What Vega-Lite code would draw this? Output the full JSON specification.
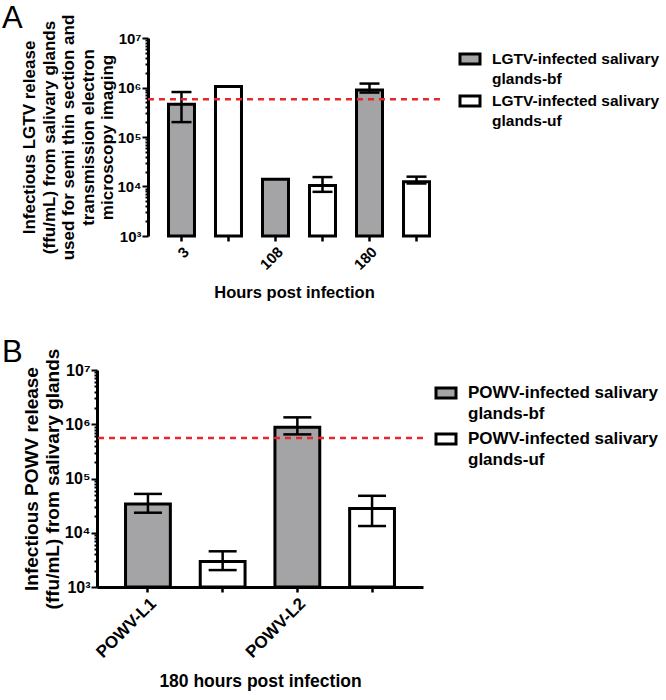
{
  "$schema": "https://vega.github.io/schema/vega-lite/v6.json",
  "background": "white",
  "padding": {"left": 2, "top": 3, "right": 3, "bottom": 3},
  "concat": [
    {
      "hconcat": [
        {
          "width": 343,
          "height": 198,
          "title": {"text": "A", "anchor": "start", "frame": "group", "fontSize": 31, "fontWeight": "normal", "color": "black", "offset": -21, "dx": -95},
          "layer": [
            {
              "data": {"values": [
                {"bar": "3-bf", "group": "LGTV-infected salivary glands-bf", "value": 460000, "lo": 200000, "hi": 810000},
                {"bar": "3-uf", "group": "LGTV-infected salivary glands-uf", "value": 1050000, "lo": null, "hi": null},
                {"bar": "108-bf", "group": "LGTV-infected salivary glands-bf", "value": 14000, "lo": null, "hi": null},
                {"bar": "108-uf", "group": "LGTV-infected salivary glands-uf", "value": 10500, "lo": 7800, "hi": 15500},
                {"bar": "180-bf", "group": "LGTV-infected salivary glands-bf", "value": 890000, "lo": 790000, "hi": 1200000},
                {"bar": "180-uf", "group": "LGTV-infected salivary glands-uf", "value": 12500, "lo": 11500, "hi": 15800}
              ]},
              "layer": [
                {
                  "mark": {"type": "bar", "stroke": "black", "strokeWidth": 3},
                  "encoding": {
                    "x": {"field": "bar", "type": "nominal", "sort": null,
                      "scale": {"domain": ["3-bf", "3-uf", "108-bf", "108-uf", "180-bf", "180-uf"], "paddingInner": 0.447, "paddingOuter": 0.872, "align": 0.872},
                      "axis": {"title": "Hours post infection", "labelAngle": -45, "labelFontSize": 15, "titleFontSize": 16.5, "domain": false, "titleX": 197,
                        "labelExpr": "indexof(datum.value, '-bf') > 0 ? substring(datum.value, 0, lastindexof(datum.value, '-')) : ''"}},
                    "y": {"field": "value", "type": "quantitative",
                      "scale": {"type": "log", "domain": [1000, 10000000], "nice": false},
                      "axis": {
                        "offset": -51,
                        "title": ["Infectious LGTV release", "(ffu/mL) from salivary glands", "used for semi thin section and", "transmission electron", "microscopy imaging"],
                        "titleFontSize": 17, "titleLineHeight": 19.5, "titlePadding": 0, "labelFontSize": 15,
                        "values": [1000, 2000, 3000, 4000, 5000, 6000, 7000, 8000, 9000, 10000, 20000, 30000, 40000, 50000, 60000, 70000, 80000, 90000, 100000, 200000, 300000, 400000, 500000, 600000, 700000, 800000, 900000, 1000000, 2000000, 3000000, 4000000, 5000000, 6000000, 7000000, 8000000, 9000000, 10000000],
                        "labelExpr": "abs(log(datum.value)/LN10 - round(log(datum.value)/LN10)) < 0.001 ? '10' + slice('⁰¹²³⁴⁵⁶⁷⁸⁹', round(log(datum.value)/LN10), round(log(datum.value)/LN10) + 1) : ''",
                        "tickSize": {"condition": {"test": "abs(log(datum.value)/LN10 - round(log(datum.value)/LN10)) < 0.001", "value": 6}, "value": 3}
                      }},
                    "y2": {"datum": 1000},
                    "color": {"field": "group", "type": "nominal",
                      "scale": {"domain": ["LGTV-infected salivary glands-bf", "LGTV-infected salivary glands-uf"], "range": ["#a4a4a7", "#ffffff"]},
                      "legend": null}
                  }
                },
                {
                  "mark": {"type": "rule", "color": "black", "strokeWidth": 2.5},
                  "encoding": {"x": {"field": "bar", "type": "nominal", "sort": null}, "y": {"field": "lo", "type": "quantitative"}, "y2": {"field": "hi"}}
                },
                {
                  "mark": {"type": "tick", "orient": "horizontal", "size": 20, "thickness": 2.5, "color": "black", "opacity": 1},
                  "encoding": {"x": {"field": "bar", "type": "nominal", "sort": null}, "y": {"field": "lo", "type": "quantitative"}}
                },
                {
                  "mark": {"type": "tick", "orient": "horizontal", "size": 20, "thickness": 2.5, "color": "black", "opacity": 1},
                  "encoding": {"x": {"field": "bar", "type": "nominal", "sort": null}, "y": {"field": "hi", "type": "quantitative"}}
                }
              ]
            },
            {
              "mark": {"type": "rule", "color": "black", "strokeWidth": 3},
              "encoding": {
                "x": {"datum": "3-bf", "type": "nominal", "bandPosition": -0.79},
                "x2": {"datum": "180-uf", "bandPosition": 1.4},
                "y": {"datum": 1000, "type": "quantitative"}
              }
            },
            {
              "data": {"values": [{"threshold": 580000}]},
              "mark": {"type": "rule", "color": "#e8262b", "strokeWidth": 2.5, "strokeDash": [6, 5]},
              "encoding": {
                "x": {"datum": "3-bf", "type": "nominal", "bandPosition": -0.79},
                "x2": {"datum": "180-uf", "bandPosition": 1.5},
                "y": {"field": "threshold", "type": "quantitative"}
              }
            }
          ]
        },
        {
          "width": 20,
          "height": 84,
          "data": {"values": [
            {"group": "LGTV-infected salivary glands-bf", "label": ["LGTV-infected salivary", "glands-bf"]},
            {"group": "LGTV-infected salivary glands-uf", "label": ["LGTV-infected salivary", "glands-uf"]}
          ]},
          "encoding": {
            "y": {"field": "group", "type": "nominal", "sort": null, "axis": null, "scale": {"paddingInner": 0, "paddingOuter": 0}}
          },
          "layer": [
            {
              "mark": {"type": "point", "shape": "M-1,-0.5H1V0.5H-1Z", "size": 400, "filled": true, "stroke": "black", "strokeWidth": 3, "opacity": 1},
              "encoding": {"color": {"field": "group", "type": "nominal", "legend": null,
                "scale": {"domain": ["LGTV-infected salivary glands-bf", "LGTV-infected salivary glands-uf"], "range": ["#a4a4a7", "#ffffff"]}}}
            },
            {
              "mark": {"type": "text", "align": "left", "baseline": "middle", "dx": 22, "fontSize": 15.5, "fontWeight": "bold", "lineHeight": 20, "color": "black"},
              "encoding": {"text": {"field": "label"}}
            }
          ]
        }
      ],
      "spacing": 10,
      "resolve": {"scale": {"x": "independent", "y": "independent", "color": "shared"}}
    },
    {
      "hconcat": [
        {
          "width": 326,
          "height": 217,
          "title": {"text": "B", "anchor": "start", "frame": "group", "fontSize": 31, "fontWeight": "normal", "color": "black", "offset": -21, "dx": -95},
          "layer": [
            {
              "data": {"values": [
                {"bar": "POWV-L1-bf", "group": "POWV-infected salivary glands-bf", "value": 34000, "lo": 23400, "hi": 52000},
                {"bar": "POWV-L1-uf", "group": "POWV-infected salivary glands-uf", "value": 2950, "lo": 2050, "hi": 4550},
                {"bar": "POWV-L2-bf", "group": "POWV-infected salivary glands-bf", "value": 880000, "lo": 650000, "hi": 1340000},
                {"bar": "POWV-L2-uf", "group": "POWV-infected salivary glands-uf", "value": 28000, "lo": 13300, "hi": 48000}
              ]},
              "layer": [
                {
                  "mark": {"type": "bar", "stroke": "black", "strokeWidth": 3},
                  "encoding": {
                    "x": {"field": "bar", "type": "nominal", "sort": null,
                      "scale": {"paddingInner": 0.4, "paddingOuter": 0.382},
                      "axis": {"title": "180 hours post infection", "labelAngle": -45, "labelFontSize": 17, "titleFontSize": 17.5,
                        "labelExpr": "indexof(datum.value, '-bf') > 0 ? substring(datum.value, 0, lastindexof(datum.value, '-')) : ''"}},
                    "y": {"field": "value", "type": "quantitative",
                      "scale": {"type": "log", "domain": [1000, 10000000], "nice": false},
                      "axis": {
                        "title": ["Infectious POWV release", "(ffu/mL) from salivary glands"],
                        "titleFontSize": 19, "titleLineHeight": 21, "titlePadding": 2, "labelFontSize": 16,
                        "values": [1000, 2000, 3000, 4000, 5000, 6000, 7000, 8000, 9000, 10000, 20000, 30000, 40000, 50000, 60000, 70000, 80000, 90000, 100000, 200000, 300000, 400000, 500000, 600000, 700000, 800000, 900000, 1000000, 2000000, 3000000, 4000000, 5000000, 6000000, 7000000, 8000000, 9000000, 10000000],
                        "labelExpr": "abs(log(datum.value)/LN10 - round(log(datum.value)/LN10)) < 0.001 ? '10' + slice('⁰¹²³⁴⁵⁶⁷⁸⁹', round(log(datum.value)/LN10), round(log(datum.value)/LN10) + 1) : ''",
                        "tickSize": {"condition": {"test": "abs(log(datum.value)/LN10 - round(log(datum.value)/LN10)) < 0.001", "value": 6}, "value": 3}
                      }},
                    "y2": {"datum": 1000},
                    "color": {"field": "group", "type": "nominal",
                      "scale": {"domain": ["POWV-infected salivary glands-bf", "POWV-infected salivary glands-uf"], "range": ["#a4a4a7", "#ffffff"]},
                      "legend": null}
                  }
                },
                {
                  "mark": {"type": "rule", "color": "black", "strokeWidth": 2.5},
                  "encoding": {"x": {"field": "bar", "type": "nominal", "sort": null}, "y": {"field": "lo", "type": "quantitative"}, "y2": {"field": "hi"}}
                },
                {
                  "mark": {"type": "tick", "orient": "horizontal", "size": 28, "thickness": 2.5, "color": "black", "opacity": 1},
                  "encoding": {"x": {"field": "bar", "type": "nominal", "sort": null}, "y": {"field": "lo", "type": "quantitative"}}
                },
                {
                  "mark": {"type": "tick", "orient": "horizontal", "size": 28, "thickness": 2.5, "color": "black", "opacity": 1},
                  "encoding": {"x": {"field": "bar", "type": "nominal", "sort": null}, "y": {"field": "hi", "type": "quantitative"}}
                }
              ]
            },
            {
              "data": {"values": [{"threshold": 560000}]},
              "mark": {"type": "rule", "color": "#e8262b", "strokeWidth": 2.5, "strokeDash": [6, 5]},
              "encoding": {"y": {"field": "threshold", "type": "quantitative"}}
            }
          ]
        },
        {
          "width": 20,
          "height": 92,
          "data": {"values": [
            {"group": "POWV-infected salivary glands-bf", "label": ["POWV-infected salivary", "glands-bf"]},
            {"group": "POWV-infected salivary glands-uf", "label": ["POWV-infected salivary", "glands-uf"]}
          ]},
          "encoding": {
            "y": {"field": "group", "type": "nominal", "sort": null, "axis": null, "scale": {"paddingInner": 0, "paddingOuter": 0}}
          },
          "layer": [
            {
              "mark": {"type": "point", "shape": "M-1,-0.5H1V0.5H-1Z", "size": 400, "filled": true, "stroke": "black", "strokeWidth": 3, "opacity": 1},
              "encoding": {"color": {"field": "group", "type": "nominal", "legend": null,
                "scale": {"domain": ["POWV-infected salivary glands-bf", "POWV-infected salivary glands-uf"], "range": ["#a4a4a7", "#ffffff"]}}}
            },
            {
              "mark": {"type": "text", "align": "left", "baseline": "middle", "dx": 22, "fontSize": 17, "fontWeight": "bold", "lineHeight": 21, "color": "black"},
              "encoding": {"text": {"field": "label"}}
            }
          ]
        }
      ],
      "spacing": 5,
      "resolve": {"scale": {"x": "independent", "y": "independent", "color": "shared"}}
    }
  ],
  "columns": 1,
  "align": "none",
  "spacing": 36,
  "resolve": {"scale": {"x": "independent", "y": "independent", "color": "independent"}},
  "config": {
    "font": "Liberation Sans",
    "view": {"stroke": null},
    "axis": {
      "grid": false,
      "domainColor": "black", "domainWidth": 3,
      "tickColor": "black", "tickWidth": 2.5, "tickSize": 5,
      "labelColor": "black", "labelFontWeight": "bold", "labelFontSize": 15,
      "titleColor": "black", "titleFontWeight": "bold", "titleFontSize": 16
    },
    "axisX": {"labelPadding": 3, "titlePadding": 12},
    "axisY": {
      "labelOverlap": false, "labelFlush": false,
      "labelPadding": 1,
      "tickWidth": 2
    }
  }
}
